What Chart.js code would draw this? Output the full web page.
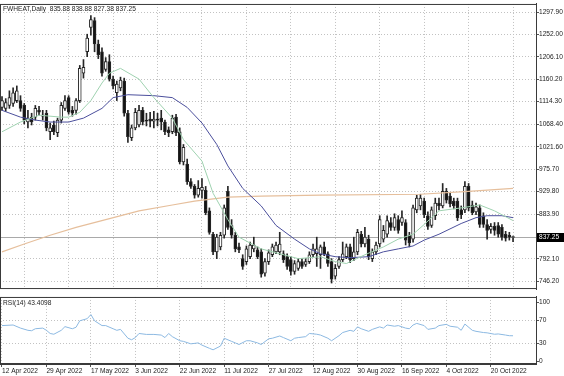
<!doctype html>
<html lang="en">
 <head>
  <meta charset="UTF-8">
  <title>FWHEAT, Daily</title>
  <script src="https://cdn.jsdelivr.net/npm/chart.js"></script>
  <style>
    body { margin: 0; background: #fff; }
    .chart { position: relative; width: 564px; height: 376px; overflow: hidden; background: #fff; }
    #main-chart { position: absolute; left: 0; top: 0; }
    #rsi-chart { position: absolute; left: 0; top: 293px; }
  </style>
 </head>
 <body>
  <div class="chart">
   <canvas id="main-chart" width="564" height="293"></canvas>
   <canvas id="rsi-chart" width="564" height="83"></canvas>
  </div>
  <script>
    const symbol = 'FWHEAT';
    const period = 'Daily';

    // daily bars, bar 0 = 12 Apr 2022
    const opens = [1102.5,1100.5,1106.5,1110.5,1116.5,1116.5,1106.5,1072.5,1082.5,1082.5,1096.5,1084.5,1090.5,1052.5,1066.5,1050.5,1076.5,1100.5,1122.5,1096.5,
      1096.5,1116.5,1172.5,1216.5,1266.5,1280.5,1232.5,1216.5,1180.5,1196.5,1160.5,1132.5,1142.5,1156.5,1090.5,1040.5,1060.5,1066.5,1096.5,1076.5,
      1078.5,1074.5,1078.5,1080.5,1072.5,1056.5,1052.5,1082.5,1052.5,990.5,986.5,950.5,940.5,922.5,932.5,932.5,890.5,842.5,806.5,816.5,
      840.5,930.5,860.5,840.5,816.5,792.5,786.5,796.5,812.5,810.5,806.5,762.5,786.5,800.5,806.5,806.5,802.5,796.5,790.5,766.5,
      772.5,786.5,780.5,786.5,800.5,802.5,800.5,816.5,802.5,786.5,756.5,776.5,790.5,796.5,816.5,792.5,806.5,842.5,822.5,832.5,
      792.5,806.5,822.5,832.5,842.5,866.5,856.5,872.5,866.5,866.5,840.5,832.5,892.5,900.5,910.5,880.5,860.5,880.5,906.5,900.5,
      930.5,920.5,910.5,910.5,892.5,892.5,940.5,902.5,888.5,896.5,880.5,862.5,852.5,858.5,860.5,856.5,842.5,840.5,835.88];
    const highs = [1124.5,1120.5,1136.5,1142.5,1146.5,1126.5,1110.5,1096.5,1090.5,1106.5,1104.5,1096.5,1096.5,1070.5,1074.5,1080.5,1112.5,1126.5,1126.5,1104.5,
      1120.5,1188.5,1200.5,1252.5,1290.5,1286.5,1240.5,1224.5,1204.5,1210.5,1166.5,1156.5,1164.5,1162.5,1096.5,1066.5,1100.5,1106.5,1102.5,1090.5,
      1092.5,1094.5,1090.5,1096.5,1076.5,1062.5,1086.5,1088.5,1060.5,1026.5,996.5,956.5,944.5,952.5,956.5,940.5,896.5,846.5,842.5,846.5,
      902.5,940.5,872.5,846.5,824.5,800.5,818.5,826.5,836.5,816.5,812.5,792.5,810.5,822.5,826.5,846.5,808.5,802.5,796.5,788.5,
      792.5,792.5,792.5,806.5,822.5,836.5,820.5,826.5,806.5,792.5,780.5,796.5,826.5,822.5,822.5,836.5,852.5,848.5,856.5,840.5,
      812.5,826.5,880.5,860.5,880.5,876.5,884.5,880.5,890.5,872.5,846.5,902.5,922.5,924.5,916.5,888.5,898.5,916.5,916.5,946.5,
      936.5,926.5,916.5,916.5,900.5,950.5,946.5,910.5,906.5,902.5,886.5,872.5,864.5,866.5,866.5,862.5,848.5,846.5,838.88];
    const lows = [1096.5,1094.5,1100.5,1104.5,1112.5,1094.5,1068.5,1060.5,1066.5,1076.5,1086.5,1076.5,1054.5,1036.5,1046.5,1042.5,1070.5,1096.5,1088.5,1084.5,
      1088.5,1112.5,1162.5,1206.5,1250.5,1216.5,1202.5,1166.5,1176.5,1156.5,1140.5,1116.5,1136.5,1084.5,1030.5,1034.5,1056.5,1062.5,1066.5,1064.5,
      1062.5,1060.5,1064.5,1056.5,1046.5,1042.5,1048.5,1044.5,986.5,984.5,944.5,936.5,916.5,918.5,916.5,882.5,842.5,800.5,792.5,810.5,
      834.5,852.5,834.5,806.5,804.5,770.5,780.5,792.5,806.5,792.5,754.5,756.5,780.5,796.5,802.5,800.5,784.5,770.5,758.5,760.5,
      768.5,772.5,776.5,782.5,796.5,776.5,772.5,798.5,776.5,742.5,750.5,772.5,786.5,792.5,784.5,788.5,800.5,816.5,816.5,790.5,
      786.5,800.5,816.5,826.5,836.5,850.5,850.5,844.5,860.5,820.5,816.5,826.5,886.5,892.5,876.5,852.5,856.5,872.5,892.5,896.5,
      906.5,898.5,894.5,870.5,874.5,886.5,890.5,882.5,882.5,856.5,856.5,832.5,844.5,840.5,836.5,830.5,828.5,830.5,827.38];
    const closes = [1116.5,1112.5,1122.5,1132.5,1136.5,1100.5,1076.5,1080.5,1072.5,1100.5,1092.5,1086.5,1060.5,1060.5,1052.5,1076.5,1106.5,1116.5,1092.5,1090.5,
      1116.5,1182.5,1184.5,1244.5,1282.5,1232.5,1210.5,1172.5,1196.5,1160.5,1146.5,1150.5,1158.5,1090.5,1042.5,1060.5,1092.5,1096.5,1072.5,1074.5,
      1074.5,1078.5,1076.5,1072.5,1052.5,1050.5,1080.5,1050.5,990.5,1020.5,950.5,940.5,922.5,936.5,938.5,886.5,846.5,806.5,836.5,840.5,
      896.5,856.5,840.5,812.5,810.5,776.5,812.5,820.5,820.5,796.5,760.5,786.5,804.5,816.5,820.5,822.5,790.5,776.5,766.5,782.5,
      786.5,776.5,786.5,800.5,812.5,812.5,816.5,802.5,782.5,750.5,772.5,790.5,802.5,816.5,790.5,806.5,846.5,822.5,836.5,796.5,
      806.5,820.5,872.5,850.5,870.5,856.5,876.5,850.5,876.5,830.5,824.5,896.5,916.5,916.5,882.5,858.5,892.5,906.5,900.5,930.5,
      912.5,904.5,900.5,876.5,882.5,940.5,896.5,886.5,898.5,862.5,862.5,850.5,858.5,850.5,842.5,836.5,834.5,836.5,837.25];

    // moving averages: [bar index] -> value
    const maFastBars = [0,5,10,16,18,21,24,27,29,32,37,41,46,49,54,57,61,64,70,75,80,86,90,93,98,103,107,111,114,118,124,129,133,138];
    const maFast = [1052.5,1072.5,1086.5,1082.5,1082.5,1092.5,1116.5,1152.5,1172.5,1182.5,1160.5,1122.5,1080.5,1036.5,992.5,926.5,872.5,836.5,812.5,802.5,
      792.5,796.5,786.5,782.5,800.5,816.5,832.5,842.5,862.5,890.5,896.5,902.5,890.5,870.5];
    const maMidBars = [0,5,9,13,18,22,27,30,34,41,46,50,54,58,61,65,70,74,79,83,86,90,94,99,103,107,111,114,118,124,128,131,135,138];
    const maMid = [1096.5,1082.5,1076.5,1072.5,1072.5,1080.5,1100.5,1122.5,1128.5,1126.5,1122.5,1102.5,1070.5,1026.5,982.5,936.5,900.5,860.5,832.5,812.5,
      802.5,796.5,794.5,796.5,806.5,812.5,818.5,830.5,842.5,864.5,876.5,880.5,880.5,876.5];
    const maSlowBars = [0,6,13,20,28,37,46,52,61,70,86,113,126,138];
    const maSlow = [806.5,822.5,840.5,856.5,872.5,890.5,902.5,910.5,918.5,920.5,922.5,924.5,930.5,936.5];

    const rsiBars = [0,3,5,7,8,9,11,12,13,14,16,17,19,20,21,23,24,25,27,28,30,31,32,34,35,36,37,39,41,43,44,45,46,48,49,51,53,54,56,57,
      59,60,62,63,64,66,67,69,70,72,73,75,76,78,79,80,82,83,85,86,88,89,91,92,94,95,96,97,99,100,102,103,104,106,107,109,110,111,112,114,
      115,117,118,120,121,123,124,125,127,128,130,131,133,134,136,137,138];
    const rsiValues = [60.8,61.8,56.5,52.7,52,55.4,56.5,52.7,47.3,46,52.7,59,55.4,58,69,72.6,79.6,69,60.8,60.8,55.4,52.7,54.3,39.2,36.6,40.3,47.3,45.7,45.7,44.6,
      40.3,47.3,41.9,34.9,33.8,29.6,31.2,27.4,22,19.4,25.8,39.2,33.8,31.2,28.5,34.9,34.9,31.2,28.5,38.2,39.2,43,40.3,34.9,39.2,40.3,41.9,47.3,46,44.6,
      39.2,34.9,43.5,48.9,52.7,51,58.6,55.4,51,54.3,58.6,56.5,61.8,59.7,60.8,56.5,55.4,61.8,64.5,60.8,54.3,56.5,60.8,62.9,59.7,58,52.7,63.4,52.7,51,
      48.9,48.4,46,46.5,44.6,43.5,43.4098];

    const dateBars = [0,12,24,36,48,60,72,84,96,108,120,132];
    const dateLabels = ['12 Apr 2022','29 Apr 2022','17 May 2022','3 Jun 2022','22 Jun 2022','11 Jul 2022','27 Jul 2022','12 Aug 2022','30 Aug 2022','16 Sep 2022','4 Oct 2022','20 Oct 2022'];
    const priceTicks = [1297.9,1252.0,1206.1,1160.2,1114.3,1068.4,1021.6,975.7,929.8,883.9,792.1,746.2];
    const rsiTicks = [100,70,30,0];

    const font = 'Liberation Sans';
    const gridColor = '#c2c2c2';
    const frameColor = '#3a3a3a';
    const textColor = '#222';
    const xMin = -0.54, xMax = 144.2;
    const last = closes.length - 1;
    const bars = closes.map((c, i) => i);

    Chart.defaults.font.family = font;
    Chart.defaults.font.size = 6.6;
    Chart.defaults.color = textColor;

    const framePlugin = {
      id: 'frame',
      afterDraw(chart) {
        const { ctx, chartArea: a } = chart;
        ctx.save();
        ctx.strokeStyle = frameColor;
        ctx.lineWidth = 1;
        ctx.strokeRect(a.left + 0.5, a.top + 0.5, a.right - a.left, a.bottom - a.top - 1);
        ctx.restore();
      }
    };

    const bidPlugin = {
      id: 'bid',
      beforeDatasetsDraw(chart) {
        const { ctx, chartArea: a, scales } = chart;
        const y = Math.round(scales.y.getPixelForValue(closes[last])) + 0.5;
        ctx.save();
        ctx.strokeStyle = '#a9a9a9';
        ctx.beginPath();
        ctx.moveTo(a.left, y);
        ctx.lineTo(a.right, y);
        ctx.stroke();
        ctx.restore();
      },
      afterDraw(chart) {
        const { ctx, chartArea: a, scales } = chart;
        const y = Math.round(scales.y.getPixelForValue(closes[last]));
        ctx.save();
        ctx.fillStyle = '#000';
        ctx.fillRect(a.right + 1, y - 4, 27, 9);
        ctx.fillStyle = '#fff';
        ctx.font = `6.6px "${font}"`;
        ctx.textBaseline = 'middle';
        ctx.fillText(closes[last].toFixed(2), a.right + 3, y + 0.5);
        ctx.fillStyle = textColor;
        ctx.textBaseline = 'alphabetic';
        const ohlc = [opens[last], highs[last], lows[last], closes[last]].map(v => v.toFixed(2)).join(' ');
        ctx.fillText(`${symbol},${period}  ${ohlc}`, a.left + 3, a.top + 7);
        ctx.restore();
      }
    };

    new Chart(document.getElementById('main-chart'), {
      type: 'bar',
      data: {
        datasets: [
          { type: 'line', label: 'MA fast', data: maFastBars.map((b, i) => ({ x: b, y: maFast[i] })),
            borderColor: '#9fd2b0', borderWidth: 1, pointRadius: 0, order: 1 },
          { type: 'line', label: 'MA mid', data: maMidBars.map((b, i) => ({ x: b, y: maMid[i] })),
            borderColor: '#4b4f9c', borderWidth: 1, pointRadius: 0, order: 2 },
          { type: 'line', label: 'MA slow', data: maSlowBars.map((b, i) => ({ x: b, y: maSlow[i] })),
            borderColor: '#e6bf9c', borderWidth: 1.2, pointRadius: 0, order: 3 },
          { label: 'range', data: bars.map(i => ({ x: i, y: [lows[i], highs[i]] })),
            backgroundColor: '#262626', barThickness: 1, grouped: false, order: 5 },
          { label: 'body', data: bars.map(i => ({ x: i, y: [opens[i], closes[i]] })),
            backgroundColor: bars.map(i => closes[i] >= opens[i] ? '#ffffff' : '#141414'),
            borderColor: '#262626', borderWidth: 1, borderSkipped: false, minBarLength: 1,
            barThickness: 3, grouped: false, order: 4 }
        ]
      },
      options: {
        responsive: false,
        animation: false,
        events: [],
        layout: { padding: { top: 1, left: 0, right: 0, bottom: 0 } },
        plugins: { legend: { display: false }, tooltip: { enabled: false } },
        scales: {
          x: {
            type: 'linear', min: xMin, max: xMax, offset: false,
            afterBuildTicks: s => { s.ticks = dateBars.map(v => ({ value: v })); },
            afterFit: s => { s.height = 0; },
            ticks: { display: false },
            grid: { color: gridColor, drawTicks: false },
            border: { display: false, dash: [1, 2] }
          },
          y: {
            position: 'right', min: 730.2, max: 1314.5,
            afterBuildTicks: s => { s.ticks = priceTicks.map(v => ({ value: v })); },
            afterFit: s => { s.width = 28; },
            ticks: { padding: 0, callback: v => v.toFixed(2) },
            grid: { color: gridColor, tickColor: '#555', tickLength: 3 },
            border: { display: true, color: frameColor, dash: [1, 2] }
          }
        }
      },
      plugins: [bidPlugin, framePlugin]
    });

    const rsiLabelPlugin = {
      id: 'rsiLabel',
      afterDraw(chart) {
        const { ctx, chartArea: a } = chart;
        ctx.save();
        ctx.fillStyle = textColor;
        ctx.font = `6.6px "${font}"`;
        ctx.fillText(`RSI(14) ${rsiValues[rsiValues.length - 1].toFixed(4)}`, a.left + 3, a.top + 8);
        ctx.restore();
      }
    };

    new Chart(document.getElementById('rsi-chart'), {
      type: 'line',
      data: {
        datasets: [{
          label: 'RSI(14)', data: rsiBars.map((b, i) => ({ x: b, y: rsiValues[i] })),
          borderColor: '#8cb9e2', borderWidth: 1, pointRadius: 0
        }]
      },
      options: {
        responsive: false,
        animation: false,
        events: [],
        layout: { padding: 0 },
        plugins: { legend: { display: false }, tooltip: { enabled: false } },
        scales: {
          x: {
            type: 'linear', min: xMin, max: xMax, offset: false,
            afterBuildTicks: s => { s.ticks = dateBars.map(v => ({ value: v })); },
            afterFit: s => { s.height = 12; },
            ticks: { align: 'start', autoSkip: false, maxRotation: 0, padding: 0, callback: (v, i) => dateLabels[i] },
            grid: { color: gridColor, tickColor: '#555', tickLength: 3 },
            border: { display: true, color: frameColor, dash: [1, 2] }
          },
          y: {
            position: 'right', min: -4.84, max: 109.7,
            afterBuildTicks: s => { s.ticks = rsiTicks.map(v => ({ value: v })); },
            afterFit: s => { s.width = 28; },
            ticks: { padding: 0, callback: v => String(v) },
            grid: {
              color: c => (c.tick && (c.tick.value === 30 || c.tick.value === 70)) ? gridColor : 'rgba(0,0,0,0)',
              tickColor: '#555', tickLength: 3
            },
            border: { display: true, color: frameColor, dash: [1, 2] }
          }
        }
      },
      plugins: [rsiLabelPlugin, framePlugin]
    });
  </script>
 </body>
</html>
